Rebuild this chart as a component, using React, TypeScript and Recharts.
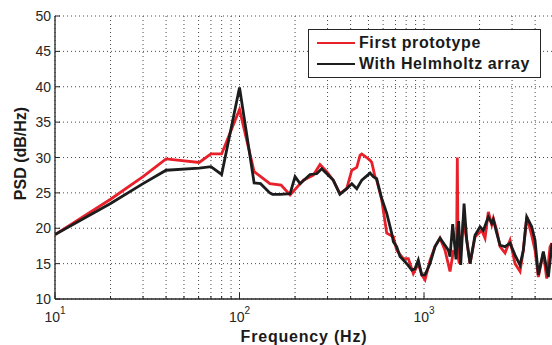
import React from "react";
import { LineChart, Line, XAxis, YAxis, CartesianGrid } from "recharts";

// PSD estimates (Hz, dB/Hz)
const protoFreq = [
  10, 20, 30, 40, 60.5, 70, 80, 100, 120, 146, 168, 188, 222, 251, 273, 297,
  322, 350, 381, 406, 432, 450, 460, 489, 510, 521, 542, 554, 590, 628, 682,
  711, 772, 822, 875, 931, 972, 1012, 1078, 1147, 1221, 1299, 1383, 1442,
  1500, 1515, 1530, 1553, 1633, 1704, 1776, 1890, 2055, 2141, 2231, 2328,
  2375, 2477, 2582, 2748, 2925, 3113, 3314, 3453, 3603, 3834, 3996, 4164,
  4432, 4624, 4819, 4940,
];
const protoPsd = [
  19.1, 24.1, 27.3, 29.8, 29.3, 30.5, 30.5, 36.8, 28.0, 26.3, 26.1, 24.7,
  26.8, 27.5, 29.0, 28.0, 26.8, 24.9, 25.6, 28.2, 28.6, 30.3, 30.5, 30.0,
  29.6, 29.3, 27.3, 26.8, 24.0, 19.3, 18.8, 16.9, 15.7, 15.7, 13.6, 15.0,
  13.4, 12.7, 15.5, 17.4, 18.6, 16.9, 13.9, 16.7, 16.5, 30.0, 16.0, 15.0,
  21.2, 18.3, 15.0, 18.8, 19.7, 18.6, 22.3, 20.5, 21.4, 19.7, 17.4, 16.5,
  18.3, 15.0, 13.9, 16.9, 21.6, 19.0, 16.9, 13.1, 16.5, 12.9, 17.4, 17.9,
];

const helmFreq = [
  10, 20, 30, 40, 60.5, 70, 80, 100, 120, 130, 146, 151, 166, 188, 200, 213,
  241, 262, 279, 303, 322, 350, 381, 406, 432, 460, 510, 531, 554, 565, 590,
  628, 668, 682, 711, 741, 806, 858, 894, 931, 972, 1012, 1078, 1147, 1221,
  1299, 1354, 1383, 1430, 1490, 1540, 1580, 1648, 1704, 1776, 1890, 2012,
  2096, 2231, 2328, 2375, 2477, 2582, 2748, 2925, 3113, 3314, 3453, 3603,
  3834, 3996, 4164, 4432, 4717, 4940,
];
const helmPsd = [
  19.1, 23.5, 26.3, 28.2, 28.5, 28.7, 27.6, 39.9, 26.4, 26.3, 25.0, 24.8,
  24.8, 24.9, 27.3, 26.3, 27.6, 27.7, 28.4, 27.5, 26.8, 24.8, 25.6, 26.3,
  25.6, 26.8, 27.8, 27.3, 27.0, 26.1, 24.2, 22.1, 19.3, 18.1, 17.4, 16.0,
  15.0, 14.1, 14.3, 15.5, 13.4, 13.4, 15.0, 17.4, 18.6, 17.6, 16.9, 16.0,
  20.6, 15.6, 21.0, 14.8, 23.5, 18.3, 15.0, 19.0, 20.2, 19.7, 21.6, 20.7,
  21.2, 19.3, 17.6, 17.4, 17.9, 16.2, 14.8, 16.9, 21.6, 20.2, 18.3, 13.4,
  16.7, 13.1, 17.9,
];

const freqTicks = [
  10, 20, 30, 40, 50, 60, 70, 80, 90, 100, 200, 300, 400, 500, 600, 700, 800,
  900, 1000, 2000, 3000, 4000,
];
const psdTicks = [10, 15, 20, 25, 30, 35, 40, 45, 50];

const prototype = protoFreq.map((f, i) => ({ f, psd: protoPsd[i] }));
const helmholtz = helmFreq.map((f, i) => ({ f, psd: helmPsd[i] }));

const FONT = "'Liberation Sans', Arial, Helvetica, sans-serif";
const AXIS = "#262626";
const RED = "#e8202a";
const BLACK = "#1c1c1c";

const isDecade = (v: number) => Math.abs(Math.log10(v) - Math.round(Math.log10(v))) < 1e-6;

// MATLAB-style ticks: drawn inward, labels as 10^n
function BottomTick({ x, y, payload }: any) {
  const v = payload.value;
  const major = isDecade(v);
  return (
    <g>
      <line x1={x} x2={x} y1={y} y2={y - (major ? 6 : 3)} stroke={AXIS} />
      {major && (
        <text x={x} y={y + 23} textAnchor="middle" fontSize={14} fill={AXIS} fontFamily={FONT}>
          10
          <tspan dy={-8} fontSize={10}>
            {Math.round(Math.log10(v))}
          </tspan>
        </text>
      )}
    </g>
  );
}

function TopTick({ x, y, payload }: any) {
  const major = isDecade(payload.value);
  return <line x1={x} x2={x} y1={y} y2={y + (major ? 6 : 3)} stroke={AXIS} />;
}

function LeftTick({ x, y, payload }: any) {
  return (
    <g>
      <line x1={x} x2={x + 5} y1={y} y2={y} stroke={AXIS} />
      <text x={x - 4} y={y + 5} textAnchor="end" fontSize={14} fill={AXIS} fontFamily={FONT}>
        {payload.value}
      </text>
    </g>
  );
}

function RightTick({ x, y }: any) {
  return <line x1={x} x2={x - 5} y1={y} y2={y} stroke={AXIS} />;
}

export default function App() {
  return (
    <div
      style={{
        position: "absolute",
        left: 0,
        top: 0,
        width: 552,
        height: 345,
        overflow: "hidden",
        background: "#fff",
      }}
    >
      <LineChart width={560} height={345} margin={{ top: 16, right: 7, bottom: 0, left: 0 }}>
        <CartesianGrid stroke="#4a4a4a" strokeDasharray="1 3" />
        <XAxis
          dataKey="f"
          type="number"
          scale="log"
          domain={[10, 5000]}
          allowDataOverflow
          ticks={freqTicks}
          interval={0}
          height={46}
          tickSize={0}
          tickMargin={0}
          tick={(p: any) => <BottomTick {...p} />}
          axisLine={{ stroke: AXIS, strokeWidth: 1.3 }}
          label={{
            content: ({ viewBox }: any) => (
              <text
                x={viewBox.x + viewBox.width / 2}
                y={viewBox.y + 43}
                textAnchor="middle"
                fontSize={16}
                fontWeight="bold"
                letterSpacing={0.8}
                fill="#1a1a1a"
                fontFamily={FONT}
              >
                Frequency (Hz)
              </text>
            ),
          }}
        />
        <XAxis
          xAxisId="top"
          orientation="top"
          dataKey="f"
          type="number"
          scale="log"
          domain={[10, 5000]}
          allowDataOverflow
          ticks={freqTicks}
          interval={0}
          height={0}
          tickSize={0}
          tickMargin={0}
          tick={(p: any) => <TopTick {...p} />}
          axisLine={{ stroke: AXIS, strokeWidth: 1.3 }}
        />
        <YAxis
          type="number"
          domain={[10, 50]}
          ticks={psdTicks}
          interval={0}
          width={55}
          tickSize={0}
          tickMargin={0}
          tick={(p: any) => <LeftTick {...p} />}
          axisLine={{ stroke: AXIS, strokeWidth: 1.3 }}
          label={{
            content: ({ viewBox }: any) => {
              const cx = 26;
              const cy = viewBox.y + viewBox.height / 2 - 4;
              return (
                <text
                  x={cx}
                  y={cy}
                  transform={`rotate(-90 ${cx} ${cy})`}
                  textAnchor="middle"
                  fontSize={16}
                  fontWeight="bold"
                  fill="#1a1a1a"
                  fontFamily={FONT}
                >
                  PSD (dB/Hz)
                </text>
              );
            },
          }}
        />
        <YAxis
          yAxisId="right"
          orientation="right"
          type="number"
          domain={[10, 50]}
          ticks={psdTicks}
          interval={0}
          width={0}
          tickSize={0}
          tickMargin={0}
          tick={(p: any) => <RightTick {...p} />}
          axisLine={{ stroke: AXIS }}
        />
        <Line
          data={prototype}
          dataKey="psd"
          type="linear"
          stroke={RED}
          strokeWidth={2.8}
          dot={false}
          isAnimationActive={false}
        />
        <Line
          data={helmholtz}
          dataKey="psd"
          type="linear"
          stroke={BLACK}
          strokeWidth={2.8}
          dot={false}
          isAnimationActive={false}
        />
      </LineChart>
      <div
        style={{
          position: "absolute",
          left: 308,
          top: 29,
          width: 231,
          height: 47,
          border: `1px solid ${AXIS}`,
          background: "#fff",
          fontFamily: FONT,
          fontWeight: "bold",
          fontSize: 16,
          letterSpacing: 0.6,
          color: "#1a1a1a",
        }}
      >
        {[
          { name: "First prototype", color: RED, top: 3 },
          { name: "With Helmholtz array", color: BLACK, top: 24 },
        ].map((item) => (
          <div
            key={item.name}
            style={{
              position: "absolute",
              left: 8,
              top: item.top,
              height: 20,
              display: "flex",
              alignItems: "center",
              whiteSpace: "nowrap",
            }}
          >
            <span
              style={{
                display: "inline-block",
                width: 38,
                height: 0,
                borderTop: `2.5px solid ${item.color}`,
                marginRight: 4,
              }}
            />
            {item.name}
          </div>
        ))}
      </div>
    </div>
  );
}
